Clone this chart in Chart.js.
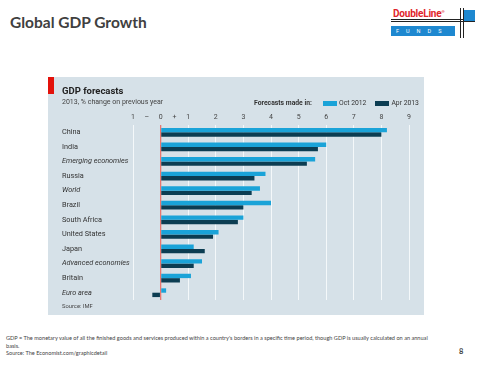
<!DOCTYPE html>
<html lang="en">
  <head>
    <meta charset="UTF-8" />
    <title>Global GDP Growth</title>
    <script src="https://cdn.jsdelivr.net/npm/chart.js"></script>
    <style>
      * {
        margin: 0;
        padding: 0;
        box-sizing: border-box;
      }

      body {
        width: 480px;
        height: 366px;
        background: #fff;
        position: relative;
        overflow: hidden;
        font-family: Lato, "Open Sans", sans-serif;
      }

      .slide-title {
        position: absolute;
        left: 10px;
        top: 13px;
        font-size: 15.5px;
        font-weight: bold;
        color: #404040;
      }

      /* logo */
      .logo-text {
        position: absolute;
        left: 393px;
        top: 8px;
        font-family: Roboto, sans-serif;
        font-weight: bold;
        font-size: 10px;
        color: #e0252b;
        letter-spacing: -0.2px;
      }
      .logo-line {
        position: absolute;
        background: #222;
      }
      .logo-box {
        position: absolute;
        left: 391px;
        top: 26px;
        width: 64px;
        height: 10px;
        background: #1e88d0;
        color: #fff;
        font-family: Roboto, sans-serif;
        font-size: 5.5px;
        letter-spacing: 7px;
        line-height: 10px;
        padding-left: 5px;
      }
      .logo-square {
        position: absolute;
        left: 464px;
        top: 10px;
        width: 11px;
        height: 11px;
        background: #1e88d0;
      }

      .panel {
        position: absolute;
        left: 48px;
        top: 77px;
        width: 376px;
        height: 238px;
        background: #d6e1e8;
      }
      .accent {
        position: absolute;
        left: 0;
        top: 0;
        width: 6px;
        height: 17px;
        background: #e3120b;
      }
      .panel h2 {
        position: absolute;
        left: 14px;
        top: 8px;
        font-family: Roboto, sans-serif;
        font-size: 9.5px;
        font-weight: bold;
        color: #222;
      }
      .panel .sub {
        position: absolute;
        left: 14px;
        top: 21px;
        font-family: Roboto, sans-serif;
        font-size: 7px;
        color: #444;
      }
      .legend {
        position: absolute;
        top: 22px;
        left: 206px;
        font-family: Roboto, sans-serif;
        font-size: 6.8px;
        color: #333;
        display: flex;
        align-items: center;
        white-space: nowrap;
      }
      .legend b {
        margin-right: 11px;
      }
      .legend .sw {
        display: inline-block;
        width: 14px;
        height: 5px;
        margin-right: 2px;
      }
      .legend .item {
        display: flex;
        align-items: center;
        margin-right: 9px;
      }
      .panel .source {
        position: absolute;
        left: 14px;
        top: 226px;
        font-family: Roboto, sans-serif;
        font-size: 5.8px;
        color: #444;
      }
      #gdpChart {
        position: absolute;
        left: 0;
        top: 0;
      }

      .footer {
        position: absolute;
        left: 6px;
        top: 334px;
        width: 432px;
        font-size: 5.6px;
        line-height: 7.6px;
        color: #444;
      }
      .page {
        position: absolute;
        left: 459px;
        top: 347px;
        font-size: 7.5px;
        font-weight: bold;
        color: #444;
      }
    </style>
  </head>
  <body>
    <div class="slide-title">Global GDP Growth</div>

    <div class="logo-text">DoubleLine<sup style="font-size: 4px">®</sup></div>
    <div class="logo-line" style="left: 391px; top: 19px; width: 84px; height: 1px"></div>
    <div class="logo-line" style="left: 391px; top: 21px; width: 84px; height: 1px"></div>
    <div class="logo-box">FUNDS</div>
    <div class="logo-square"></div>
    <div class="logo-line" style="left: 460px; top: 8px; width: 1px; height: 30px"></div>
    <div class="logo-line" style="left: 463px; top: 8px; width: 1px; height: 30px"></div>

    <div class="panel">
      <canvas id="gdpChart" width="376" height="238"></canvas>
      <div class="accent"></div>
      <h2>GDP forecasts</h2>
      <div class="sub">2013, % change on previous year</div>
      <div class="legend" id="legend"><b>Forecasts made in:</b></div>
      <div class="source">Source: IMF</div>
    </div>

    <div class="footer">
      GDP = The monetary value of all the finished goods and services produced within a country's borders in a specific time period, though GDP is usually calculated on an annual basis.<br />
      Source: The Economist.com/graphicdetail
    </div>
    <div class="page">8</div>

    <script>
      // data
      const countries = [
        "China",
        "India",
        "Emerging economies",
        "Russia",
        "World",
        "Brazil",
        "South Africa",
        "United States",
        "Japan",
        "Advanced economies",
        "Britain",
        "Euro area",
      ];
      const italicRows = ["Emerging economies", "World", "Advanced economies", "Euro area"];

      const oct2012 = [8.2, 6.0, 5.6, 3.8, 3.6, 4.0, 3.0, 2.1, 1.2, 1.5, 1.1, 0.2];
      const apr2013 = [8.0, 5.7, 5.3, 3.4, 3.3, 3.0, 2.8, 1.9, 1.6, 1.2, 0.7, -0.3];

      const seriesNames = ["Oct 2012", "Apr 2013"];
      const seriesColors = ["#1aa3d8", "#0c3d52"];

      const tickValues = [-1, -0.5, 0, 0.5, 1, 2, 3, 4, 5, 6, 7, 8, 9];
      const tickLabels = ["1", "–", "0", "+", "1", "2", "3", "4", "5", "6", "7", "8", "9"];

      // legend
      const legend = document.getElementById("legend");
      seriesNames.forEach((name, i) => {
        const item = document.createElement("span");
        item.className = "item";
        item.innerHTML = `<span class="sw" style="background:${seriesColors[i]}"></span>${name}`;
        legend.appendChild(item);
      });

      const ctx = document.getElementById("gdpChart").getContext("2d");

      new Chart(ctx, {
        type: "bar",
        data: {
          labels: countries,
          datasets: [
            {
              label: seriesNames[0],
              data: oct2012,
              backgroundColor: seriesColors[0],
            },
            {
              label: seriesNames[1],
              data: apr2013,
              backgroundColor: seriesColors[1],
            },
          ],
        },
        options: {
          indexAxis: "y",
          responsive: false,
          animation: false,
          layout: { padding: { left: 14, right: 15, top: 34, bottom: 15 } },
          plugins: {
            legend: { display: false },
            tooltip: { enabled: false },
          },
          datasets: {
            bar: { categoryPercentage: 0.6, barPercentage: 1 },
          },
          scales: {
            x: {
              position: "top",
              min: -1,
              max: 9,
              afterBuildTicks: (axis) => {
                axis.ticks = tickValues.map((v) => ({ value: v }));
              },
              afterFit: (axis) => {
                axis.height = 14;
              },
              border: { display: false },
              grid: {
                drawTicks: false,
                lineWidth: (c) => (c.tick && c.tick.value === 0 ? 1.3 : 1),
                color: (c) => {
                  const v = c.tick ? c.tick.value : null;
                  if (v === 0) return "#e8776f";
                  if (Number.isInteger(v)) return "#f4f8fa";
                  return "rgba(0,0,0,0)";
                },
              },
              ticks: {
                autoSkip: false,
                maxRotation: 0,
                padding: 4,
                color: "#444",
                font: { family: "Roboto", size: 7 },
                callback: (value) => tickLabels[tickValues.indexOf(value)],
              },
            },
            y: {
              afterFit: (axis) => {
                axis.width = 71;
              },
              border: { display: false },
              grid: { display: false },
              ticks: {
                crossAlign: "far",
                color: "#333",
                font: (c) => ({
                  family: "Roboto",
                  size: 7.3,
                  style: italicRows.includes(countries[c.index]) ? "italic" : "normal",
                }),
              },
            },
          },
        },
      });
    </script>
  </body>
</html>
